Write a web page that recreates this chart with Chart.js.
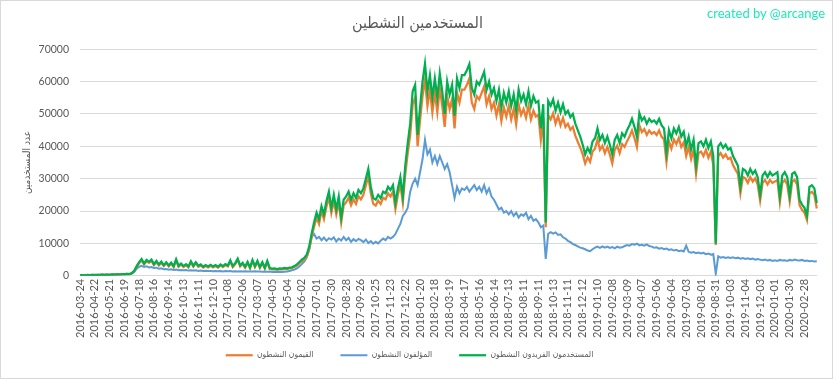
<!DOCTYPE html>
<html><head><meta charset="utf-8">
<script src="https://cdn.jsdelivr.net/npm/chart.js@4.4.1/dist/chart.umd.min.js"></script>
<style>
html,body{margin:0;padding:0;background:#fff;}
#wrap{position:relative;width:833px;height:379px;overflow:hidden;}
#wm{position:absolute;left:707px;top:5px;font:13px Lato,'DejaVu Sans',sans-serif;color:#1de9b6;white-space:nowrap;}
#frame{position:absolute;left:0;top:0;width:831px;height:377px;border:1px solid #d9d9d9;pointer-events:none;}
</style></head>
<body><div id="wrap"><canvas id="c" width="833" height="379"></canvas><div id="wm">created by @arcange</div><div id="frame"></div></div>
<script>
const chartTitle = 'المستخدمين النشطين';
const yAxisTitle = 'عدد المستخدمين';
const seriesNames = ['القيمون النشطون', 'المؤلفون النشطون', 'المستخدمون الفريدون النشطون'];
const samplesPerTick = 6;
const tickLabels = ['2016-03-24','2016-04-22','2016-05-21','2016-06-19','2016-07-18','2016-08-16','2016-09-14','2016-10-13','2016-11-11','2016-12-10','2017-01-08','2017-02-06','2017-03-07','2017-04-05','2017-05-04','2017-06-02','2017-07-01','2017-07-30','2017-08-28','2017-09-26','2017-10-25','2017-11-23','2017-12-22','2018-01-20','2018-02-18','2018-03-19','2018-04-17','2018-05-16','2018-06-14','2018-07-13','2018-08-11','2018-09-11','2018-10-13','2018-11-11','2018-12-12','2019-01-10','2019-02-08','2019-03-09','2019-04-07','2019-05-06','2019-06-04','2019-07-03','2019-08-01','2019-08-31','2019-10-03','2019-11-04','2019-12-03','2020-01-01','2020-01-30','2020-02-28'];

const activeUniqueUsers = [
100,200,150,250,200,300, 250,300,250,350,300,350, 300,400,350,450,400,500, 500,600,550,800,1500,3000,
4200,5200,3800,4900,4300,5000, 3600,4600,3500,4400,3300,4200, 3200,4100,3000,5100,3100,3800, 3000,3600,2900,4500,3100,4200,
3100,3500,2800,3300,2900,3400, 2900,3300,2800,3500,3000,3600, 3200,4800,3000,3900,5300,3200, 4000,2800,4300,2600,4900,3000,
4600,2700,4200,2500,4600,2400, 2200,2300,2100,2300,2200,2400, 2300,2500,2600,3000,3500,4200, 5000,5500,6500,9000,13000,16500,
19500,17500,21500,19000,23000,26000, 21000,25000,20500,24500,18000,23500, 24500,26000,23500,25500,24000,26500, 25500,27000,30000,33000,27500,24000,
23500,25000,24000,26000,25500,27500, 26500,28000,22500,27000,30500,24500, 34000,41000,47000,57000,59000,43500, 52000,60000,65500,57000,62000,55000,
61000,55000,62500,57000,50000,60000, 56000,59000,49500,61000,58000,62000, 62000,63500,65400,58000,56000,60000, 59000,61000,63000,57500,60000,56000,
58000,54000,57500,52000,56500,53500, 57000,52500,56000,51000,57500,54000, 56000,53000,57000,52500,55500,53500, 54000,45500,53000,16500,54000,52500,
54500,51000,53500,50500,53000,50000, 51000,49000,50000,47000,45000,43000, 40500,37500,39500,38000,41500,42500, 45500,42000,43500,41000,43000,40500,
37500,42000,43500,41000,44000,43000, 45000,46500,48500,46000,43000,50300, 48000,49000,47000,48500,47500,48000, 47000,48500,46500,45500,38000,45000,
42500,45500,44000,46000,43000,44500, 40000,43000,39000,42000,34000,41000, 41500,40000,42000,39500,41500,37000, 10000,40000,41000,39500,40500,39000,
39500,37000,35500,34000,27500,33000, 32500,31000,33000,31500,32500,30500, 25000,31000,32000,30500,32000,31000, 31500,32000,24500,31000,32000,30500,
24800,31500,32000,30500,23500,22000, 21000,18500,27500,28000,27000,22500
];

const activeCurators = [
100,180,140,230,190,280, 230,280,240,330,280,330, 290,380,330,420,380,470, 470,560,520,750,1400,2800,
3900,4800,3500,4500,4000,4600, 3300,4200,3200,4000,3000,3900, 2900,3800,2700,4700,2800,3500, 2700,3300,2600,4100,2800,3900,
2800,3200,2500,3000,2600,3100, 2600,3000,2500,3200,2700,3300, 2900,4400,2700,3600,4900,2900, 3700,2500,4000,2300,4500,2700,
4200,2400,3900,2200,4200,2100, 1950,2050,1850,2050,1950,2150, 2050,2250,2350,2700,3150,3800, 4500,5000,5900,8200,12000,15200,
18000,16000,20000,17500,21300,24200, 19400,23200,19000,22700,16500,21800, 22700,24100,21800,23600,22200,24600, 23600,25000,27900,30700,25500,22200,
21700,23200,22200,24100,23600,25500, 24500,26000,20600,25000,28300,22600, 31500,38000,43500,53000,55000,40000, 48000,55500,60500,52500,57500,50500,
56500,50500,58000,52500,46000,55500, 51500,54500,45500,56500,53500,57500, 57500,59000,61000,53500,51500,55500, 54500,56500,58500,53000,55500,51500,
53500,49500,53000,47800,52000,49200, 52500,48300,51500,46800,53000,49700, 51500,48800,52500,48300,51000,49200, 49700,42000,48800,15000,49700,48300,
50200,47000,49300,46500,48800,46000, 47000,45100,46000,43300,41400,39600, 37500,34700,36600,35200,38400,39300, 42100,38900,40200,37900,39800,37500,
34700,38900,40200,37900,40700,39800, 41600,43000,44900,42600,39800,46500, 44400,45300,43500,44900,43900,44400, 43500,44900,43000,42100,35200,41600,
39300,42100,40700,42600,39800,41200, 37000,39800,36100,38900,31500,37900, 38400,37000,38900,36500,38400,34200, 9500,37000,37900,36500,37500,36100,
36500,34200,32800,31500,25500,30500, 30100,28700,30500,29100,30100,28200, 23200,28700,29600,28200,29600,28700, 29100,29600,22700,28700,29600,28200,
23000,29100,29600,28200,21800,20400, 19500,17200,25500,25900,25000,20800
];

const activeAuthors = [
100,150,150,200,200,250, 250,250,300,300,350,350, 350,400,400,450,450,500, 500,550,550,700,1200,2200,
2800,3100,2700,2900,2600,2700, 2400,2500,2200,2300,2000,2100, 1900,2000,1800,1900,1700,1800, 1700,1800,1600,1700,1600,1700,
1500,1600,1500,1550,1450,1500, 1400,1500,1400,1450,1350,1450, 1400,1450,1350,1400,1300,1400, 1350,1400,1300,1350,1300,1400,
1300,1350,1250,1300,1250,1300, 1200,1250,1200,1250,1200,1250, 1300,1500,1700,1900,2300,2900, 3600,4400,5700,8000,12000,12900,
11500,12000,11000,11800,10800,11600, 11200,11900,10600,11500,10900,12000, 11000,11700,10500,11300,10700,11400, 11000,10400,11200,10100,10700,9900,
10500,10000,10800,11500,11000,12000, 11500,12000,12900,14500,16000,18500, 19500,21000,26000,28500,30000,28000, 32000,36000,42000,37500,39000,35000,
37000,34500,37000,35000,33000,34500, 32000,28000,24000,27500,25500,27000, 26500,27500,26000,27000,28000,26500, 27500,26000,28000,25500,27000,24500,
23500,22000,20500,21000,19500,20000, 19000,20000,18500,19500,18000,19000, 18500,19500,17500,18500,17000,17500, 16500,15000,15500,5200,13000,13500,
13000,13400,12600,12800,11900,11500, 10800,10400,9800,9500,9100,8700, 8500,8200,7800,7600,8200,8700, 9000,8600,9100,8700,9000,8600,
8900,8500,9000,8700,8800,9200, 9500,9300,9800,9600,9900,9400, 9600,9300,9700,9200,9000,8700, 8800,8400,8600,8200,8400,8000,
8200,7800,8000,7600,7800,7500, 9300,7400,7100,7300,7000,7200, 6900,7100,6700,6900,6500,6700, 600,6000,5600,5800,5500,5700,
5500,5700,5400,5600,5300,5500, 5200,5400,5100,5300,5000,5200, 5000,4800,5000,4700,4900,4600, 4800,4600,4900,4700,4800,4600,
4900,4700,5000,4800,4700,4900, 4600,4700,4500,4600,4400,4500
];

const FONT = "Lato, 'DejaVu Sans', sans-serif";
const AR_FONT = "'DejaVu Sans Condensed', 'DejaVu Sans', sans-serif";
const TXT = '#595959';
const labels = activeUniqueUsers.map((_, i) => i % samplesPerTick === 0 ? tickLabels[i / samplesPerTick] : '');

const legendShift = {
  id: 'legendShift',
  afterLayout(chart) {
    const lg = chart.legend;
    if (lg) {
      lg.left -= 8; lg.right -= 8;
      lg.top -= 17; lg.height = 45; lg.bottom = lg.top + lg.height;
    }
  }
};

new Chart(document.getElementById('c'), {
  type: 'line',
  plugins: [legendShift],
  data: {
    labels: labels,
    datasets: [
      { label: seriesNames[0], data: activeCurators, borderColor: '#ED7D31', backgroundColor: '#ED7D31', borderWidth: 2.25, order: 1 },
      { label: seriesNames[1], data: activeAuthors, borderColor: '#5B9BD5', backgroundColor: '#5B9BD5', borderWidth: 2, order: 2 },
      { label: seriesNames[2], data: activeUniqueUsers, borderColor: '#00B050', backgroundColor: '#00B050', borderWidth: 2.25, order: 0 }
    ]
  },
  options: {
    responsive: false,
    animation: false,
    events: [],
    elements: { point: { radius: 0 }, line: { tension: 0 } },
    layout: { padding: { left: 17, right: 15, top: 0, bottom: 8 } },
    plugins: {
      title: { display: true, text: chartTitle, color: TXT, font: { family: AR_FONT, size: 16, weight: 'normal' }, padding: { top: 14, bottom: 16 } },
      legend: {
        position: 'bottom',
        maxHeight: 30,
        labels: {
          color: TXT, font: { family: AR_FONT, size: 8.5 }, usePointStyle: true, pointStyle: 'line', pointStyleWidth: 27,
          padding: 27, sort: (a, b) => a.datasetIndex - b.datasetIndex
        }
      },
      tooltip: { enabled: false }
    },
    scales: {
      x: {
        type: 'category',
        grid: { display: false, drawTicks: false },
        border: { display: false },
        ticks: { autoSkip: false, maxRotation: 90, minRotation: 90, padding: 3, color: TXT, font: { family: FONT, size: 11 },
          callback: (v, i) => labels[i] }
      },
      y: {
        min: 0, max: 70000,
        grid: { color: '#d9d9d9', drawTicks: false },
        border: { display: false },
        afterFit: (axis) => { axis.width = 63; },
        ticks: { stepSize: 10000, padding: 11, color: TXT, font: { family: FONT, size: 10.5 }, callback: (v) => String(v) },
        title: { display: true, text: yAxisTitle, color: TXT, font: { family: AR_FONT, size: 10 }, padding: 4 }
      }
    }
  }
});
</script>
</body></html>
